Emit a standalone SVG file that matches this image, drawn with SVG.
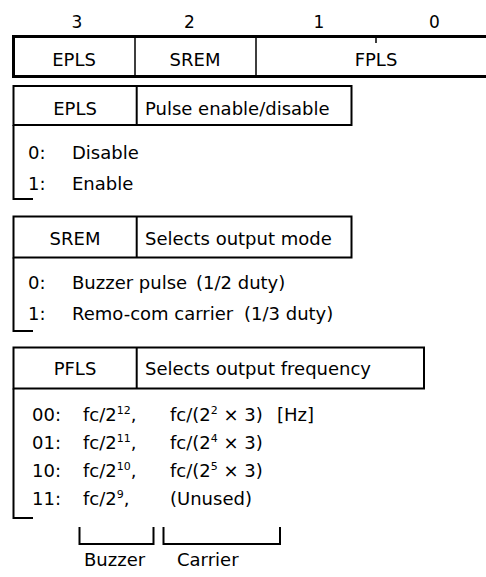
<svg xmlns="http://www.w3.org/2000/svg" width="486" height="577" viewBox="0 0 486 577">
<style>
text{font-family:"DejaVu Sans","Liberation Sans",sans-serif;font-size:18px;fill:#000}
.bit{font-size:17px}
.c{text-anchor:middle}
.sup{font-size:11px}
.thick{fill:none;stroke:#000;stroke-width:3}
.ln{fill:none;stroke:#000;stroke-width:2}
.thin{fill:none;stroke:#000;stroke-width:1.5}
</style>
<rect width="486" height="577" fill="#fff"/>
<g id="register">
<text class="bit c" x="77" y="28">3</text>
<text class="bit c" x="189.5" y="28">2</text>
<text class="bit c" x="319" y="28">1</text>
<text class="bit c" x="434.5" y="28">0</text>
<path class="thick" d="M487 36.5H13.5V76.5H487"/>
<path class="thin" d="M135 36.5V76.5M256 36.5V76.5M376 36.5V43"/>
<text class="c" x="74" y="66">EPLS</text>
<text class="c" x="195" y="66">SREM</text>
<text class="c" x="376" y="66">FPLS</text>
</g>
<g id="epls">
<rect class="ln" x="13.5" y="86" width="338" height="39"/>
<path class="ln" d="M136.7 86V125"/>
<text class="c" x="75" y="115">EPLS</text>
<text x="145" y="115">Pulse enable/disable</text>
<text x="28" y="159">0:</text><text x="72" y="159">Disable</text>
<text x="28" y="190">1:</text><text x="72" y="190">Enable</text>
</g>
<g id="srem">
<rect class="ln" x="13.5" y="216.5" width="338" height="41"/>
<path class="ln" d="M136.7 216.5V257.5"/>
<text class="c" x="75" y="245">SREM</text>
<text x="145" y="245">Selects output mode</text>
<text x="28" y="289">0:</text><text x="72" y="289">Buzzer pulse</text><text x="196" y="289">(1/2 duty)</text>
<text x="28" y="320">1:</text><text x="72" y="320">Remo-com carrier</text><text x="244" y="320">(1/3 duty)</text>
</g>
<g id="pfls">
<rect class="ln" x="13.5" y="347.5" width="410.5" height="41"/>
<path class="ln" d="M136.7 347.5V388.5"/>
<text class="c" x="75" y="375">PFLS</text>
<text x="145" y="375">Selects output frequency</text>
<text x="32" y="421">00:</text>
<text x="83" y="421">fc/2<tspan class="sup" dy="-7">12</tspan><tspan dy="7">,</tspan></text>
<text x="170" y="421">fc/(2<tspan class="sup" dy="-7">2</tspan><tspan dy="7"> × 3)</tspan></text>
<text x="277" y="421">[Hz]</text>
<text x="32" y="449">01:</text>
<text x="83" y="449">fc/2<tspan class="sup" dy="-7">11</tspan><tspan dy="7">,</tspan></text>
<text x="170" y="449">fc/(2<tspan class="sup" dy="-7">4</tspan><tspan dy="7"> × 3)</tspan></text>
<text x="32" y="477">10:</text>
<text x="83" y="477">fc/2<tspan class="sup" dy="-7">10</tspan><tspan dy="7">,</tspan></text>
<text x="170" y="477">fc/(2<tspan class="sup" dy="-7">5</tspan><tspan dy="7"> × 3)</tspan></text>
<text x="32" y="505">11:</text>
<text x="83" y="505">fc/2<tspan class="sup" dy="-7">9</tspan><tspan dy="7">,</tspan></text>
<text x="170" y="505">(Unused)</text>
<text x="84" y="566">Buzzer</text>
<text x="177" y="566">Carrier</text>
</g>
<g id="connectors">
<path class="ln" d="M13.5 125V199H33"/>
<path class="ln" d="M13.5 257.5V331H33"/>
<path class="ln" d="M13.5 388.5V518H33"/>
<path class="ln" d="M79.5 527V544H153.5V527"/>
<path class="ln" d="M163.5 527V544H280V527"/>
</g>
</svg>
